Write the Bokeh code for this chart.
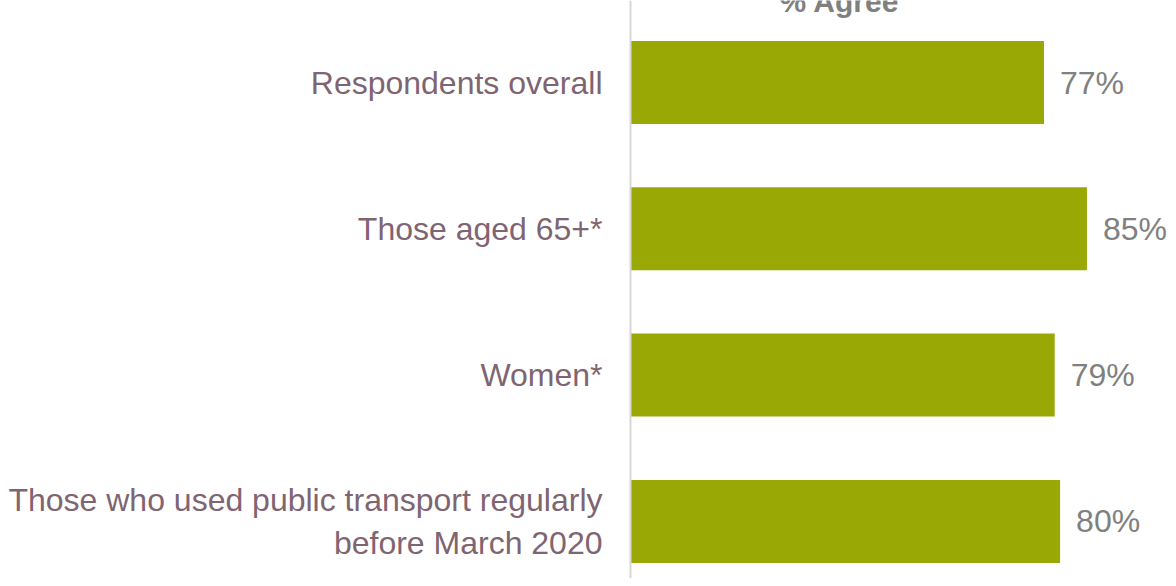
from bokeh.plotting import figure
from bokeh.models import ColumnDataSource, Span, Range1d
from bokeh.core.properties import value
from bokeh.embed import file_html
from bokeh.resources import INLINE

categories = ["Respondents overall", "Those aged 65+*", "Women*",
              "Those who used public transport regularly\nbefore March 2020"]
values = [77, 85, 79, 80]
value_labels = ["77%", "85%", "79%", "80%"]
title_text = "% Agree"

W, H = 1168, 578
px_per_unit_x = 5.37
zero_px = 630  # from frame left
x_start = -zero_px / px_per_unit_x
x_end = (W - zero_px) / px_per_unit_x

px_per_row = 146.3
ypos = [4, 3, 2, 1]
y_top = 4 + 82 / px_per_row
y_bottom = y_top - H / px_per_row

p = figure(width=W, height=H, output_backend="svg", toolbar_location=None,
           x_axis_type=None, y_axis_type=None, min_border=0,
           x_range=Range1d(x_start, x_end), y_range=Range1d(y_bottom, y_top))
p.outline_line_color = None
p.background_fill_color = "white"
p.border_fill_color = "white"
p.xgrid.visible = False
p.ygrid.visible = False

src = ColumnDataSource(dict(cat=categories, val=values, y=ypos, lab=value_labels,
                            lab_x=[v + 16 / px_per_unit_x for v in values],
                            cat_x=[-28 / px_per_unit_x] * len(values)))

p.hbar(y="y", left=0, right="val", height=83 / px_per_row, source=src,
       fill_color="#9AA805", line_color=None)

p.add_layout(Span(location=0, dimension="height", line_color="#D9D6D9", line_width=2))

p.text(x="cat_x", y="y", text="cat", source=src, text_align="right",
       text_baseline="middle", text_font=value("Liberation Sans"),
       text_font_size="32px", text_color="#7F6472", text_line_height=1.2)

p.text(x="lab_x", y="y", text="lab", source=src, text_align="left",
       text_baseline="middle", text_font=value("Liberation Sans"),
       text_font_size="32px", text_color="#808080")

title_y = y_top - 1 / px_per_row
title_x = (839 - zero_px) / px_per_unit_x
p.text(x=[title_x], y=[title_y], text=[title_text], text_align="center",
       text_baseline="alphabetic", text_font=value("Liberation Sans"),
       text_font_size="30px", text_font_style="bold", text_color="#808080")

open("out.html", "w").write(file_html(p, INLINE))
